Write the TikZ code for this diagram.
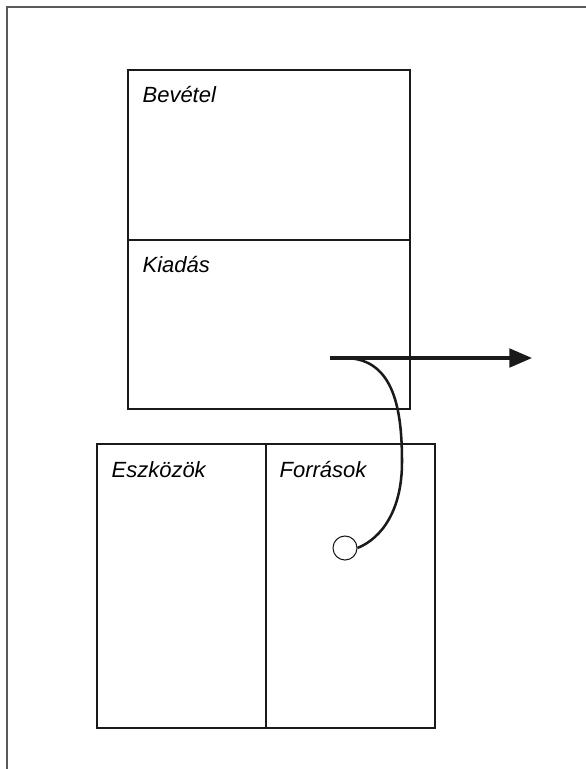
\documentclass[tikz,border=0pt]{standalone}
\usepackage{fontspec}
\setmainfont{Liberation Sans}
\definecolor{ink}{HTML}{1A1A1A}
\definecolor{rim}{HTML}{5A5A5A}
\usetikzlibrary{arrows.meta,calc}
\tikzset{
  panel/.style={draw=ink,line width=1pt,rectangle,inner sep=0pt,fill=none},
  lbl/.style={anchor=base west,inner sep=0pt,font=\fontsize{16.5}{20}\selectfont\itshape},
  flow/.style={-{Triangle[length=17pt,width=14pt]},line width=2.3pt,ink},
  hook/.style={line width=1.9pt,ink},
  dot/.style={circle,draw=ink,line width=0.8pt,fill=white,minimum size=18pt,inner sep=0pt}
}

\begin{document}
\begin{tikzpicture}[x=0.75pt,y=-0.75pt]
    \useasboundingbox (0,0) rectangle (586,769);
    \draw[rim,line width=1.2pt] (7,769) |- (586,7);
    % upper account: income / expense
    \node[panel,minimum width=211.5pt,minimum height=127.5pt] (bev) at (269,155) {};
    \node[panel,minimum width=211.5pt,minimum height=126.75pt] (kia) at (269,324.5) {};
    % lower account: assets / sources
    \node[panel,minimum width=126.75pt,minimum height=213pt] (esz) at (181.5,586) {};
    \node[panel,minimum width=126.75pt,minimum height=213pt] (forr) at (350.5,586) {};
    \node[lbl] (bevl) at ($(bev.north west)+(15,33)$) {Bevétel};
    \node[lbl] (kial) at ($(kia.north west)+(15,33)$) {Kiadás};
    \node[lbl] (eszl) at ($(esz.north west)+(15,34)$) {Eszközök};
    \node[lbl] (forrl) at ($(forr.north west)+(14,34)$) {Források};
    \node[dot] (pt) at (345,548) {};
    \coordinate (from) at (330,358);
    \coordinate (to) at (532,358);
    \coordinate (split) at (346,358);
    \draw[flow] (from) -- (to);
    \draw[hook] (split) .. controls (395,359) and (402,412) .. (402,462)
                .. controls (402,510) and (382,538) .. (pt.east);
\end{tikzpicture}
\end{document}
